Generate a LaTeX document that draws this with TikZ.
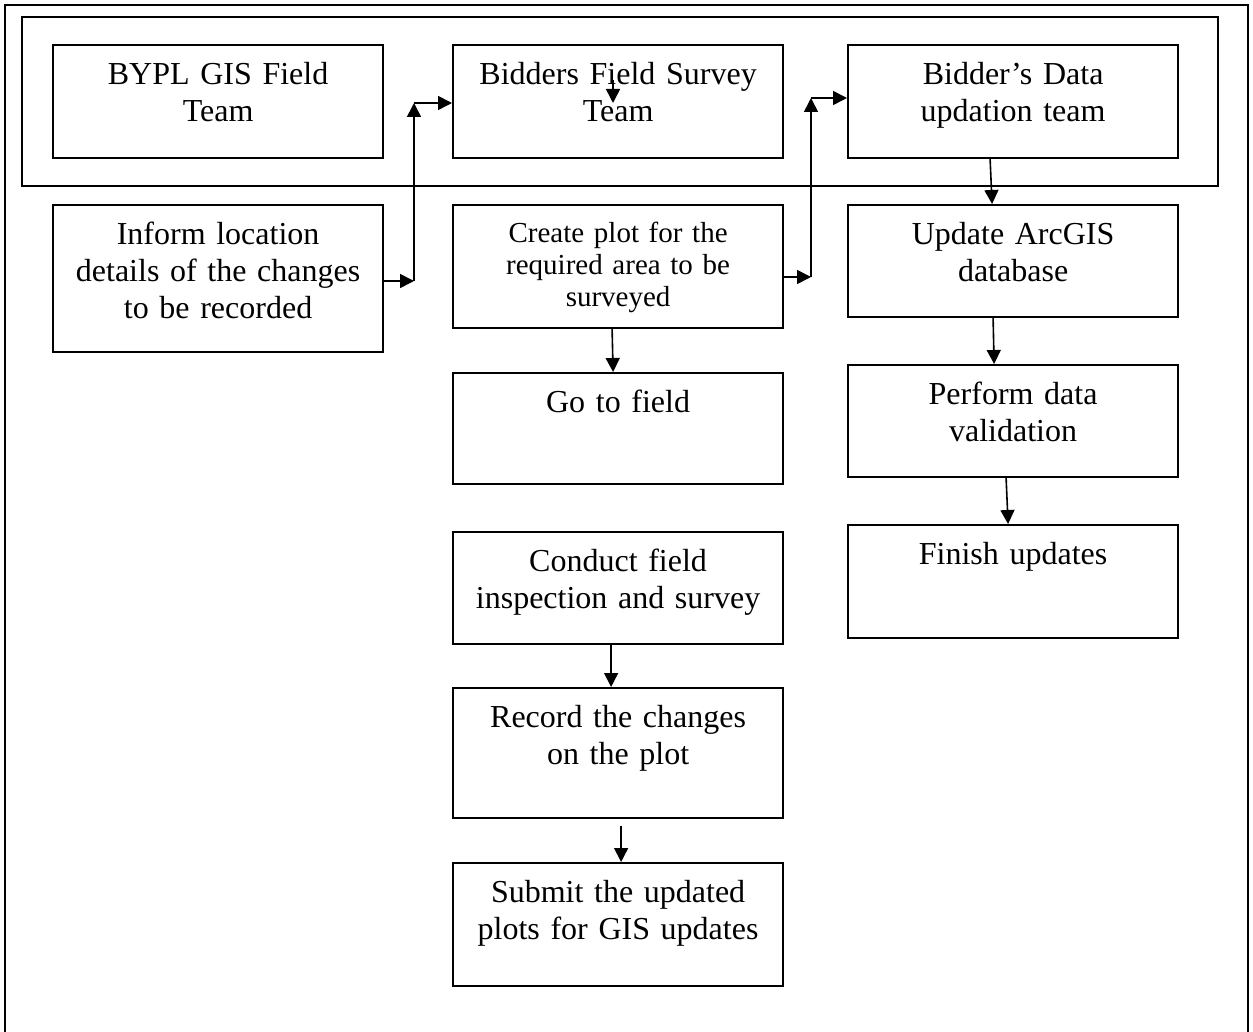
\documentclass[tikz,border=0pt]{standalone}
\usepackage{fontspec}
\setmainfont{Liberation Serif}
\usetikzlibrary{arrows.meta,positioning}

\begin{document}
\begin{tikzpicture}[x=0.5pt, y=-0.5pt,
    box/.style = {draw, line width=1.1pt, rectangle, anchor=north west, minimum width=165pt, inner sep=0pt},
    txt/.style = {inner sep=0pt, text width=160pt, align=center, font=\fontsize{16}{18.5}\selectfont},
    arr/.style = {-{Triangle[length=7pt,width=7pt]}, line width=0.8pt}]
    \useasboundingbox (0,0) rectangle (1253,1032);
    % frames
    \draw[line width=1pt] (5,1032) -- (5,5) -- (1248,5) -- (1248,1032);
    \draw[line width=1pt] (22,17) rectangle (1218,186);
    % boxes
    \node[box, minimum height=56.5pt] (bypl)    at (52,44)   {};
    \node[box, minimum height=56.5pt] (bidders) at (452,44)  {};
    \node[box, minimum height=56.5pt] (bdata)   at (847,44)  {};
    \node[box, minimum height=73.5pt] (inform)  at (52,204)  {};
    \node[box, minimum height=61.5pt] (plot)    at (452,204) {};
    \node[box, minimum height=56pt]   (arcgis)  at (847,204) {};
    \node[box, minimum height=55.5pt] (field)   at (452,372) {};
    \node[box, minimum height=56pt]   (valid)   at (847,364) {};
    \node[box, minimum height=56pt]   (conduct) at (452,531) {};
    \node[box, minimum height=56.5pt] (finish)  at (847,524) {};
    \node[box, minimum height=65pt]   (record)  at (452,687) {};
    \node[box, minimum height=61.5pt] (submit)  at (452,862) {};
    % texts
    \node[txt, below=9pt of bypl.north]    {BYPL GIS Field\\Team};
    \node[txt, below=9pt of bidders.north] {Bidders Field Survey\\Team};
    \node[txt, below=9pt of bdata.north]   {Bidder’s Data\\updation team};
    \node[txt, below=9pt of inform.north]  {Inform location\\details of the changes\\to be recorded};
    \node[txt, below=9pt of plot.north, font=\fontsize{14.5}{16}\selectfont] {Create plot for the\\required area to be\\surveyed};
    \node[txt, below=9pt of arcgis.north]  {Update ArcGIS\\database};
    \node[txt, below=9pt of field.north]   {Go to field};
    \node[txt, below=9pt of valid.north]   {Perform data\\validation};
    \node[txt, below=9pt of conduct.north] {Conduct field\\inspection and survey};
    \node[txt, below=9pt of finish.north]  {Finish updates};
    \node[txt, below=9pt of record.north]  {Record the changes\\on the plot};
    \node[txt, below=9pt of submit.north]  {Submit the updated\\plots for GIS updates};
    % corners
    \coordinate (c1) at (414,281);
    \coordinate (c2) at (414,103);
    \coordinate (c3) at (811,277);
    \coordinate (c4) at (811,98);
    \coordinate (s1) at (613,80);
    \coordinate (s2) at (613,103);
    % arrows
    \draw[arr] (inform.east |- c1) -- (c1);
    \draw[arr] (c1) -- (c2);
    \draw[arr] (c2) -- (c2 -| bidders.west);
    \draw[arr] (s1) -- (s2);
    \draw[arr] (plot.east |- c3) -- (c3);
    \draw[arr] (c3) -- (c4);
    \draw[arr] (c4) -- (c4 -| bdata.west);
    \draw[arr] ([xshift=-11.5pt]bdata.south) -- ([xshift=-10.5pt]arcgis.north);
    \draw[arr] ([xshift=-10pt]arcgis.south) -- ([xshift=-9.5pt]valid.north);
    \draw[arr] ([xshift=-3.5pt]valid.south) -- ([xshift=-2.5pt]finish.north);
    \draw[arr] ([xshift=-3pt]plot.south) -- ([xshift=-2.5pt]field.north);
    \draw[arr] ([xshift=-3.5pt]conduct.south) -- ([xshift=-3.5pt]record.north);
    \draw[arr] ([xshift=1.5pt,yshift=-3.5pt]record.south) -- ([xshift=1.5pt]submit.north);
\end{tikzpicture}
\end{document}
